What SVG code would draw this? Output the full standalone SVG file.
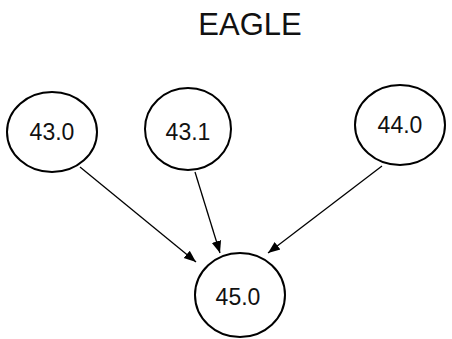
<svg xmlns="http://www.w3.org/2000/svg" width="452" height="339" viewBox="0 0 452 339">
<defs>
<style>
.n ellipse{fill:#fff;stroke:#000;stroke-width:2}
.n text{font-family:"Liberation Sans",Arial,sans-serif;font-size:23px;text-anchor:middle;fill:#111}
.e line{stroke:#000;stroke-width:1.3}
</style>
<marker id="ah" viewBox="0 0 10 10" refX="10" refY="5" markerWidth="12" markerHeight="12" markerUnits="userSpaceOnUse" orient="auto">
<path d="M0,1 L10,5 L0,9 Z" fill="#000"/>
</marker>
</defs>
<rect width="452" height="339" fill="#fff"/>
<text x="250" y="35" font-family="Liberation Sans,Arial,sans-serif" font-size="31" text-anchor="middle" fill="#111">EAGLE</text>
<g class="e">
<line x1="80" y1="167" x2="196" y2="262" marker-end="url(#ah)"/>
<line x1="195" y1="172" x2="220" y2="253" marker-end="url(#ah)"/>
<line x1="382" y1="166" x2="268" y2="253" marker-end="url(#ah)"/>
</g>
<g id="n430" class="n"><ellipse cx="52" cy="132" rx="45" ry="40"/><text x="52" y="140">43.0</text></g>
<g id="n431" class="n"><ellipse cx="188" cy="129" rx="43" ry="41"/><text x="188" y="140">43.1</text></g>
<g id="n440" class="n"><ellipse cx="400" cy="125" rx="45" ry="40"/><text x="400" y="133">44.0</text></g>
<g id="n450" class="n"><ellipse cx="240" cy="295" rx="45" ry="42"/><text x="238" y="305">45.0</text></g>
</svg>
